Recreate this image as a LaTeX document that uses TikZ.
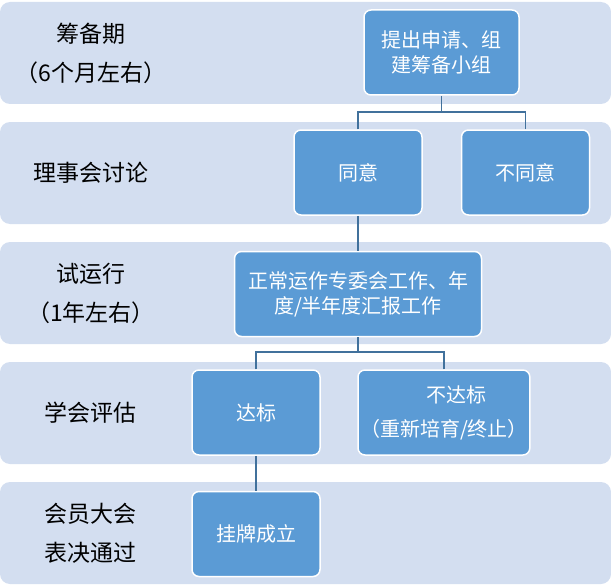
\documentclass[tikz,border=0pt]{standalone}
\usepackage{fontspec}
\setmainfont{Noto Sans CJK SC}
\usetikzlibrary{positioning}
\definecolor{bandfill}{HTML}{D3DEF0}
\definecolor{boxfill}{HTML}{5B9BD5}
\definecolor{linkcol}{HTML}{41719C}
\tikzset{band/.style={fill=bandfill,rounded corners=10pt,minimum width=611pt,minimum height=102pt,inner sep=0pt},stage/.style={align=center,font=\fontsize{23}{39}\selectfont},box/.style={draw=white,line width=1.5pt,fill=boxfill,rounded corners=7pt,text=white,align=center,minimum height=85pt,minimum width=128pt,inner sep=2pt,font=\fontsize{20}{25}\selectfont},link/.style={draw=linkcol,line width=1.8pt}}

\begin{document}
\begin{tikzpicture}[x=1pt,y=-1pt,node distance=35pt and 38pt]
\useasboundingbox (0,0) rectangle (611,586);
\foreach \i in {0,...,4} \node[band] (band\i) at (305.5,{53+120*\i}) {};
\node[stage] (lprep) at (91,53) {筹备期\\（6个月左右）};
\node[stage] (ldisc) at (91,173) {理事会讨论};
\node[stage] (ltrial) at (91,293) {试运行\\（1年左右）};
\node[stage] (leval) at (91,413) {学会评估};
\node[stage] (lvote) at (91,533) {会员大会\\表决通过};
\node[box,minimum width=155pt] (prep) at (441.5,52.5) {提出申请、组\\建筹备小组};
\node[box] (agree) at (358,172.5) {同意};
\node[box,right=of agree] (disagree) {不同意};
\node[box,below=of agree,minimum width=247pt] (trial) {正常运作专委会工作、年\\度/半年度汇报工作};
\node[box] (pass) at (256,412.5) {达标};
\node[box,right=36.5pt of pass,minimum width=166pt] (fail) {\hspace*{26pt}不达标\\[9pt]（重新培育/终止）};
\node[box,below=of pass] (found) {挂牌成立};
\draw[link] (agree.north) -- ++(0,-17) -| (prep.south);
\draw[link] (disagree.north) -- ++(0,-17) -| (prep.south);
\draw[link] (agree.south) -- (trial.north);
\draw[link] (pass.north) -- ++(0,-17) -| (trial.south);
\draw[link] (fail.north) -- ++(0,-17) -| (trial.south);
\draw[link] (pass.south) -- (found.north);
\end{tikzpicture}
\end{document}
